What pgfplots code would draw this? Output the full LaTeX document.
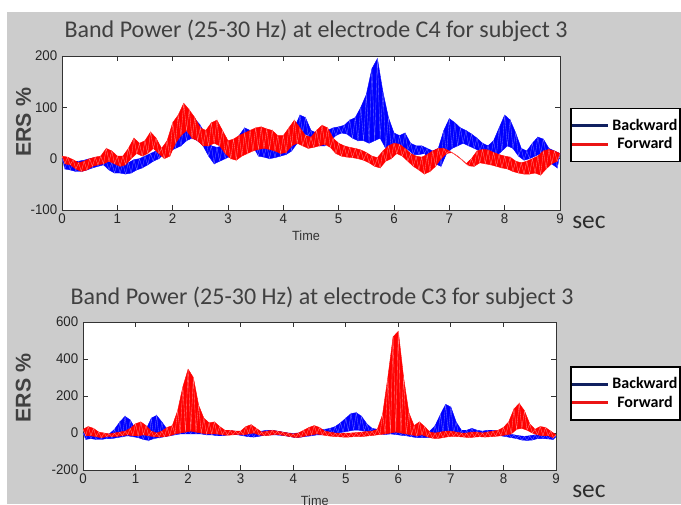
\documentclass[border=0pt]{standalone}
\usepackage{pgfplots}
\pgfplotsset{compat=1.18}
\usepackage{fontspec}
\setmainfont{Carlito}
\newfontfamily\tickfont[FakeStretch=0.95]{Liberation Sans}
\newfontfamily\ersfont{Liberation Sans}
\definecolor{bggray}{RGB}{204,204,204}
\definecolor{navyleg}{RGB}{16,32,96}
\definecolor{titlegray}{RGB}{64,64,64}
\definecolor{secgray}{RGB}{45,45,45}
\definecolor{pblue}{RGB}{0,0,255}
\definecolor{pred}{RGB}{255,0,0}
\definecolor{tblue}{RGB}{110,110,255}
\definecolor{tred}{RGB}{255,130,130}
\definecolor{legred}{RGB}{235,20,20}

\pgfplotsset{
  bandfill/.style={draw=#1, line width=0.3pt, fill=#1, forget plot},
  bandtex/.style={draw=#1, line width=0.25pt, forget plot},
  legline/.style={legend image code/.code={\draw[#1, line width=2.2pt] (0pt,0pt) -- (27pt,0pt);}},
  matstyle/.style={
    scale only axis, xmin=0, xmax=9, xtick={0,...,9},
    tick align=inside, major tick length=3.5pt,
    axis line style={black!80, line width=0.7pt},
    every tick/.style={black!80, line width=0.6pt},
    axis background/.style={fill=white},
    ticklabel style={font=\tickfont\fontsize{10.5}{10.5}\selectfont, text=black!85},
    xticklabel style={yshift=1pt},
    /pgf/number format/assume math mode=true,
    xlabel={Time},
    xlabel style={font=\tickfont\fontsize{10}{10}\selectfont, text=black!80, anchor=center},
    ylabel={ERS \%},
    ylabel style={font=\ersfont\bfseries\fontsize{16}{16}\selectfont, text=black!75, anchor=center},
    legend cell align=center,
    legend style={anchor=north west, draw=black, line width=1.3pt, fill=white,
      font=\bfseries\fontsize{12}{12}\selectfont, inner xsep=0pt, inner ysep=6pt,
      row sep=0pt},
  }
}

\begin{document}
\begin{tikzpicture}
\useasboundingbox (0,0) rectangle (510.75pt,378pt);
\clip (0,0) rectangle (510.75pt,378pt);
\fill[white] (0,0) rectangle (510.75pt,378pt);
\fill[bggray] (5.25pt,0) rectangle (510.75pt,369pt);

% ---------------- Top panel: C4 ----------------
\begin{axis}[matstyle,
  at={(46.5pt,220.5pt)}, anchor=south west, width=373.5pt, height=115.5pt,
  ymin=-100, ymax=200, ytick={-100,0,100,200},
  xlabel style={at={(axis description cs:0.49,-0.17)}},
  ylabel style={at={(axis description cs:-0.077,0.569)}},
  legend style={at={(1.020,0.665)}},
]
% Backward: upper envelope forward, lower envelope backward
\addplot[bandfill=pblue] coordinates {
(0,0)(0.1,-5)(0.2,-5)(0.3,-5)(0.4,-3)(0.5,0)(0.6,2)(0.7,3)(0.8,-5)(0.9,-8)(1,-8)(1.1,-10)(1.2,-8)(1.3,-2)(1.4,0)(1.5,5)(1.6,10)(1.7,15)(1.8,20)(1.9,30)(2,45)(2.1,55)(2.2,65)(2.3,75)(2.4,78)(2.5,65)(2.6,45)(2.7,25)(2.8,22)(2.9,25)(3,25)(3.1,30)(3.2,45)(3.3,60)(3.4,55)(3.5,35)(3.6,28)(3.7,25)(3.8,25)(3.9,28)(4,30)(4.1,40)(4.2,60)(4.3,85)(4.4,80)(4.5,55)(4.6,50)(4.7,50)(4.8,55)(4.9,60)(5,62)(5.1,65)(5.2,75)(5.3,80)(5.4,100)(5.5,125)(5.6,175)(5.7,195)(5.8,130)(5.9,80)(6,50)(6.1,45)(6.2,50)(6.3,30)(6.4,25)(6.5,25)(6.6,20)(6.7,15)(6.8,20)(6.9,55)(7,78)(7.1,70)(7.2,60)(7.3,55)(7.4,48)(7.5,40)(7.6,30)(7.7,25)(7.8,35)(7.9,60)(8,85)(8.1,75)(8.2,50)(8.3,20)(8.4,15)(8.5,30)(8.6,42)(8.7,38)(8.8,20)(8.9,15)(9,10)
(8.95,-18)(8.85,-10)(8.75,8)(8.65,10)(8.55,5)(8.45,0)(8.35,-3)(8.25,5)(8.15,20)(8.05,25)(7.95,15)(7.85,5)(7.75,5)(7.65,10)(7.55,15)(7.45,20)(7.35,25)(7.25,30)(7.15,25)(7.05,20)(6.95,10)(6.85,-15)(6.75,-10)(6.65,0)(6.55,10)(6.45,8)(6.35,8)(6.25,18)(6.15,20)(6.05,17)(5.95,20)(5.85,20)(5.75,40)(5.65,35)(5.55,30)(5.45,35)(5.35,35)(5.25,40)(5.15,48)(5.05,50)(4.95,45)(4.85,35)(4.75,25)(4.65,25)(4.55,30)(4.45,45)(4.35,50)(4.25,30)(4.15,15)(4.05,8)(3.95,5)(3.85,2)(3.75,0)(3.65,3)(3.55,5)(3.45,25)(3.35,25)(3.25,15)(3.15,10)(3.05,5)(2.95,0)(2.85,-5)(2.75,-10)(2.65,5)(2.55,25)(2.45,35)(2.35,40)(2.25,35)(2.15,25)(2.05,20)(1.95,15)(1.85,10)(1.75,0)(1.65,-5)(1.55,-12)(1.45,-18)(1.35,-22)(1.25,-28)(1.15,-30)(1.05,-28)(0.95,-28)(0.85,-22)(0.75,-12)(0.65,-15)(0.55,-18)(0.45,-22)(0.35,-25)(0.25,-25)(0.15,-22)(0.05,-20)
};
\addplot[bandtex=tblue] coordinates {
(0,0)(0.05,-20)(0.1,-5)(0.15,-22)(0.2,-5)(0.25,-25)(0.3,-5)(0.35,-25)(0.4,-3)(0.45,-22)(0.5,0)(0.55,-18)(0.6,2)(0.65,-15)(0.7,3)(0.75,-12)(0.8,-5)(0.85,-22)(0.9,-8)(0.95,-28)(1,-8)(1.05,-28)(1.1,-10)(1.15,-30)(1.2,-8)(1.25,-28)(1.3,-2)(1.35,-22)(1.4,0)(1.45,-18)(1.5,5)(1.55,-12)(1.6,10)(1.65,-5)(1.7,15)(1.75,0)(1.8,20)(1.85,10)(1.9,30)(1.95,15)(2,45)(2.05,20)(2.1,55)(2.15,25)(2.2,65)(2.25,35)(2.3,75)(2.35,40)(2.4,78)(2.45,35)(2.5,65)(2.55,25)(2.6,45)(2.65,5)(2.7,25)(2.75,-10)(2.8,22)(2.85,-5)(2.9,25)(2.95,0)(3,25)(3.05,5)(3.1,30)(3.15,10)(3.2,45)(3.25,15)(3.3,60)(3.35,25)(3.4,55)(3.45,25)(3.5,35)(3.55,5)(3.6,28)(3.65,3)(3.7,25)(3.75,0)(3.8,25)(3.85,2)(3.9,28)(3.95,5)(4,30)(4.05,8)(4.1,40)(4.15,15)(4.2,60)(4.25,30)(4.3,85)(4.35,50)(4.4,80)(4.45,45)(4.5,55)(4.55,30)(4.6,50)(4.65,25)(4.7,50)(4.75,25)(4.8,55)(4.85,35)(4.9,60)(4.95,45)(5,62)(5.05,50)(5.1,65)(5.15,48)(5.2,75)(5.25,40)(5.3,80)(5.35,35)(5.4,100)(5.45,35)(5.5,125)(5.55,30)(5.6,175)(5.65,35)(5.7,195)(5.75,40)(5.8,130)(5.85,20)(5.9,80)(5.95,20)(6,50)(6.05,17)(6.1,45)(6.15,20)(6.2,50)(6.25,18)(6.3,30)(6.35,8)(6.4,25)(6.45,8)(6.5,25)(6.55,10)(6.6,20)(6.65,0)(6.7,15)(6.75,-10)(6.8,20)(6.85,-15)(6.9,55)(6.95,10)(7,78)(7.05,20)(7.1,70)(7.15,25)(7.2,60)(7.25,30)(7.3,55)(7.35,25)(7.4,48)(7.45,20)(7.5,40)(7.55,15)(7.6,30)(7.65,10)(7.7,25)(7.75,5)(7.8,35)(7.85,5)(7.9,60)(7.95,15)(8,85)(8.05,25)(8.1,75)(8.15,20)(8.2,50)(8.25,5)(8.3,20)(8.35,-3)(8.4,15)(8.45,0)(8.5,30)(8.55,5)(8.6,42)(8.65,10)(8.7,38)(8.75,8)(8.8,20)(8.85,-10)(8.9,15)(8.95,-18)(9,10)
};
% Forward
\addplot[bandfill=pred] coordinates {
(0,5)(0.1,3)(0.2,-2)(0.3,-8)(0.4,-5)(0.5,0)(0.6,3)(0.7,5)(0.8,20)(0.9,15)(1,5)(1.1,5)(1.2,20)(1.3,40)(1.4,30)(1.5,35)(1.6,52)(1.7,40)(1.8,20)(1.9,35)(2,70)(2.1,85)(2.2,108)(2.3,95)(2.4,80)(2.5,60)(2.6,55)(2.7,70)(2.8,75)(2.9,55)(3,35)(3.1,38)(3.2,45)(3.3,50)(3.4,55)(3.5,60)(3.6,62)(3.7,58)(3.8,55)(3.9,45)(4,45)(4.1,60)(4.2,75)(4.3,60)(4.4,45)(4.5,42)(4.6,55)(4.7,65)(4.8,60)(4.9,40)(5,30)(5.1,25)(5.2,22)(5.3,20)(5.4,17)(5.5,12)(5.6,5)(5.7,2)(5.8,15)(5.9,25)(6,30)(6.1,28)(6.2,20)(6.3,10)(6.4,5)(6.5,3)(6.6,8)(6.7,15)(6.8,20)(6.9,20)(7,15)(7.1,8)(7.2,0)(7.3,-10)(7.4,0)(7.5,15)(7.6,18)(7.7,17)(7.8,12)(7.9,8)(8,5)(8.1,3)(8.2,-5)(8.3,-8)(8.4,-5)(8.5,0)(8.6,5)(8.7,15)(8.8,18)(8.9,15)(9,10)
(8.95,-5)(8.85,-10)(8.75,-20)(8.65,-32)(8.55,-28)(8.45,-30)(8.35,-30)(8.25,-28)(8.15,-25)(8.05,-20)(7.95,-18)(7.85,-15)(7.75,-12)(7.65,-10)(7.55,-8)(7.45,-15)(7.35,-14)(7.25,-4)(7.15,5)(7.05,12)(6.95,10)(6.85,0)(6.75,-15)(6.65,-25)(6.55,-30)(6.45,-22)(6.35,-15)(6.25,-5)(6.15,5)(6.05,10)(5.95,0)(5.85,-5)(5.75,-18)(5.65,-15)(5.55,-8)(5.45,-3)(5.35,0)(5.25,2)(5.15,3)(5.05,5)(4.95,10)(4.85,22)(4.75,28)(4.65,25)(4.55,22)(4.45,20)(4.35,25)(4.25,30)(4.15,25)(4.05,12)(3.95,10)(3.85,15)(3.75,18)(3.65,20)(3.55,18)(3.45,15)(3.35,10)(3.25,5)(3.15,-3)(3.05,0)(2.95,10)(2.85,25)(2.75,30)(2.65,25)(2.55,25)(2.45,35)(2.35,40)(2.25,55)(2.15,45)(2.05,30)(1.95,5)(1.85,0)(1.75,10)(1.65,20)(1.55,10)(1.45,5)(1.35,10)(1.25,0)(1.15,-12)(1.05,-15)(0.95,-10)(0.85,-5)(0.75,-10)(0.65,-12)(0.55,-15)(0.45,-22)(0.35,-25)(0.25,-20)(0.15,-12)(0.05,-10)
};
\addplot[bandtex=tred] coordinates {
(0,5)(0.05,-10)(0.1,3)(0.15,-12)(0.2,-2)(0.25,-20)(0.3,-8)(0.35,-25)(0.4,-5)(0.45,-22)(0.5,0)(0.55,-15)(0.6,3)(0.65,-12)(0.7,5)(0.75,-10)(0.8,20)(0.85,-5)(0.9,15)(0.95,-10)(1,5)(1.05,-15)(1.1,5)(1.15,-12)(1.2,20)(1.25,0)(1.3,40)(1.35,10)(1.4,30)(1.45,5)(1.5,35)(1.55,10)(1.6,52)(1.65,20)(1.7,40)(1.75,10)(1.8,20)(1.85,0)(1.9,35)(1.95,5)(2,70)(2.05,30)(2.1,85)(2.15,45)(2.2,108)(2.25,55)(2.3,95)(2.35,40)(2.4,80)(2.45,35)(2.5,60)(2.55,25)(2.6,55)(2.65,25)(2.7,70)(2.75,30)(2.8,75)(2.85,25)(2.9,55)(2.95,10)(3,35)(3.05,0)(3.1,38)(3.15,-3)(3.2,45)(3.25,5)(3.3,50)(3.35,10)(3.4,55)(3.45,15)(3.5,60)(3.55,18)(3.6,62)(3.65,20)(3.7,58)(3.75,18)(3.8,55)(3.85,15)(3.9,45)(3.95,10)(4,45)(4.05,12)(4.1,60)(4.15,25)(4.2,75)(4.25,30)(4.3,60)(4.35,25)(4.4,45)(4.45,20)(4.5,42)(4.55,22)(4.6,55)(4.65,25)(4.7,65)(4.75,28)(4.8,60)(4.85,22)(4.9,40)(4.95,10)(5,30)(5.05,5)(5.1,25)(5.15,3)(5.2,22)(5.25,2)(5.3,20)(5.35,0)(5.4,17)(5.45,-3)(5.5,12)(5.55,-8)(5.6,5)(5.65,-15)(5.7,2)(5.75,-18)(5.8,15)(5.85,-5)(5.9,25)(5.95,0)(6,30)(6.05,10)(6.1,28)(6.15,5)(6.2,20)(6.25,-5)(6.3,10)(6.35,-15)(6.4,5)(6.45,-22)(6.5,3)(6.55,-30)(6.6,8)(6.65,-25)(6.7,15)(6.75,-15)(6.8,20)(6.85,0)(6.9,20)(6.95,10)(7,15)(7.05,12)(7.1,8)(7.15,5)(7.2,0)(7.25,-4)(7.3,-10)(7.35,-14)(7.4,0)(7.45,-15)(7.5,15)(7.55,-8)(7.6,18)(7.65,-10)(7.7,17)(7.75,-12)(7.8,12)(7.85,-15)(7.9,8)(7.95,-18)(8,5)(8.05,-20)(8.1,3)(8.15,-25)(8.2,-5)(8.25,-28)(8.3,-8)(8.35,-30)(8.4,-5)(8.45,-30)(8.5,0)(8.55,-28)(8.6,5)(8.65,-32)(8.7,15)(8.75,-20)(8.8,18)(8.85,-10)(8.9,15)(8.95,-5)(9,10)
};
\addlegendimage{legline=navyleg}
\addlegendentry{Backward}
\addlegendimage{legline=legred}
\addlegendentry{Forward}
\end{axis}

% ---------------- Bottom panel: C3 ----------------
\begin{axis}[matstyle,
  at={(62.25pt,25.5pt)}, anchor=south west, width=354.75pt, height=111pt,
  ymin=-200, ymax=600, ytick={-200,0,200,400,600},
  xlabel style={at={(axis description cs:0.49,-0.205)}},
  ylabel style={at={(axis description cs:-0.126,0.554)}},
  legend style={at={(1.0296,0.703)}},
]
\addplot[bandfill=pblue] coordinates {
(0,0)(0.1,0)(0.2,-5)(0.3,-5)(0.4,-8)(0.5,-5)(0.6,20)(0.7,60)(0.8,90)(0.9,70)(1,20)(1.1,0)(1.2,20)(1.3,80)(1.4,95)(1.5,60)(1.6,20)(1.7,10)(1.8,10)(1.9,15)(2,20)(2.1,20)(2.2,15)(2.3,10)(2.4,10)(2.5,5)(2.6,8)(2.7,10)(2.8,12)(2.9,10)(3,5)(3.1,0)(3.2,0)(3.3,5)(3.4,10)(3.5,15)(3.6,15)(3.7,10)(3.8,5)(3.9,0)(4,-2)(4.1,0)(4.2,5)(4.3,10)(4.4,15)(4.5,15)(4.6,20)(4.7,25)(4.8,35)(4.9,55)(5,80)(5.1,105)(5.2,110)(5.3,90)(5.4,50)(5.5,25)(5.6,20)(5.7,15)(5.8,15)(5.9,15)(6,10)(6.1,5)(6.2,0)(6.3,0)(6.4,-2)(6.5,0)(6.6,10)(6.7,40)(6.8,100)(6.9,155)(7,140)(7.1,60)(7.2,15)(7.3,15)(7.4,25)(7.5,15)(7.6,10)(7.7,15)(7.8,15)(7.9,10)(8,0)(8.1,-5)(8.2,-10)(8.3,-15)(8.4,-18)(8.5,-15)(8.6,-10)(8.7,-8)(8.8,-10)(8.9,-15)(9,-20)
(8.95,-35)(8.85,-32)(8.75,-30)(8.65,-30)(8.55,-38)(8.45,-40)(8.35,-38)(8.25,-30)(8.15,-25)(8.05,-20)(7.95,-15)(7.85,-10)(7.75,-12)(7.65,-15)(7.55,-12)(7.45,-10)(7.35,-12)(7.25,-15)(7.15,-10)(7.05,0)(6.95,5)(6.85,0)(6.75,-10)(6.65,-20)(6.55,-25)(6.45,-25)(6.35,-25)(6.25,-20)(6.15,-15)(6.05,-12)(5.95,-8)(5.85,-5)(5.75,-8)(5.65,-5)(5.55,0)(5.45,5)(5.35,10)(5.25,15)(5.15,15)(5.05,10)(4.95,5)(4.85,0)(4.75,-5)(4.65,-8)(4.55,-10)(4.45,-10)(4.35,-15)(4.25,-18)(4.15,-22)(4.05,-25)(3.95,-20)(3.85,-15)(3.75,-12)(3.65,-10)(3.55,-10)(3.45,-12)(3.35,-18)(3.25,-22)(3.15,-20)(3.05,-15)(2.95,-10)(2.85,-8)(2.75,-10)(2.65,-15)(2.55,-15)(2.45,-10)(2.35,-10)(2.25,-5)(2.15,-5)(2.05,-5)(1.95,-5)(1.85,-5)(1.75,-10)(1.65,-15)(1.55,-20)(1.45,-25)(1.35,-30)(1.25,-40)(1.15,-35)(1.05,-25)(0.95,-20)(0.85,-15)(0.75,-20)(0.65,-25)(0.55,-30)(0.45,-30)(0.35,-35)(0.25,-35)(0.15,-30)(0.05,-35)
};
\addplot[bandtex=tblue] coordinates {
(0,0)(0.05,-35)(0.1,0)(0.15,-30)(0.2,-5)(0.25,-35)(0.3,-5)(0.35,-35)(0.4,-8)(0.45,-30)(0.5,-5)(0.55,-30)(0.6,20)(0.65,-25)(0.7,60)(0.75,-20)(0.8,90)(0.85,-15)(0.9,70)(0.95,-20)(1,20)(1.05,-25)(1.1,0)(1.15,-35)(1.2,20)(1.25,-40)(1.3,80)(1.35,-30)(1.4,95)(1.45,-25)(1.5,60)(1.55,-20)(1.6,20)(1.65,-15)(1.7,10)(1.75,-10)(1.8,10)(1.85,-5)(1.9,15)(1.95,-5)(2,20)(2.05,-5)(2.1,20)(2.15,-5)(2.2,15)(2.25,-5)(2.3,10)(2.35,-10)(2.4,10)(2.45,-10)(2.5,5)(2.55,-15)(2.6,8)(2.65,-15)(2.7,10)(2.75,-10)(2.8,12)(2.85,-8)(2.9,10)(2.95,-10)(3,5)(3.05,-15)(3.1,0)(3.15,-20)(3.2,0)(3.25,-22)(3.3,5)(3.35,-18)(3.4,10)(3.45,-12)(3.5,15)(3.55,-10)(3.6,15)(3.65,-10)(3.7,10)(3.75,-12)(3.8,5)(3.85,-15)(3.9,0)(3.95,-20)(4,-2)(4.05,-25)(4.1,0)(4.15,-22)(4.2,5)(4.25,-18)(4.3,10)(4.35,-15)(4.4,15)(4.45,-10)(4.5,15)(4.55,-10)(4.6,20)(4.65,-8)(4.7,25)(4.75,-5)(4.8,35)(4.85,0)(4.9,55)(4.95,5)(5,80)(5.05,10)(5.1,105)(5.15,15)(5.2,110)(5.25,15)(5.3,90)(5.35,10)(5.4,50)(5.45,5)(5.5,25)(5.55,0)(5.6,20)(5.65,-5)(5.7,15)(5.75,-8)(5.8,15)(5.85,-5)(5.9,15)(5.95,-8)(6,10)(6.05,-12)(6.1,5)(6.15,-15)(6.2,0)(6.25,-20)(6.3,0)(6.35,-25)(6.4,-2)(6.45,-25)(6.5,0)(6.55,-25)(6.6,10)(6.65,-20)(6.7,40)(6.75,-10)(6.8,100)(6.85,0)(6.9,155)(6.95,5)(7,140)(7.05,0)(7.1,60)(7.15,-10)(7.2,15)(7.25,-15)(7.3,15)(7.35,-12)(7.4,25)(7.45,-10)(7.5,15)(7.55,-12)(7.6,10)(7.65,-15)(7.7,15)(7.75,-12)(7.8,15)(7.85,-10)(7.9,10)(7.95,-15)(8,0)(8.05,-20)(8.1,-5)(8.15,-25)(8.2,-10)(8.25,-30)(8.3,-15)(8.35,-38)(8.4,-18)(8.45,-40)(8.5,-15)(8.55,-38)(8.6,-10)(8.65,-30)(8.7,-8)(8.75,-30)(8.8,-10)(8.85,-32)(8.9,-15)(8.95,-35)(9,-20)
};
\addplot[bandfill=pred] coordinates {
(0,20)(0.1,35)(0.2,25)(0.3,5)(0.4,0)(0.5,-5)(0.6,0)(0.7,5)(0.8,10)(0.9,25)(1,50)(1.1,60)(1.2,40)(1.3,10)(1.4,0)(1.5,10)(1.6,30)(1.7,40)(1.8,120)(1.9,250)(2,345)(2.1,300)(2.2,150)(2.3,80)(2.4,55)(2.5,60)(2.6,35)(2.7,15)(2.8,15)(2.9,10)(3,10)(3.1,35)(3.2,45)(3.3,25)(3.4,5)(3.5,10)(3.6,15)(3.7,10)(3.8,5)(3.9,0)(4,-5)(4.1,0)(4.2,15)(4.3,30)(4.4,40)(4.5,30)(4.6,10)(4.7,5)(4.8,0)(4.9,-2)(5,0)(5.1,0)(5.2,2)(5.3,5)(5.4,8)(5.5,10)(5.6,20)(5.7,100)(5.8,300)(5.9,520)(6,550)(6.1,300)(6.2,110)(6.3,40)(6.4,60)(6.5,35)(6.6,5)(6.7,0)(6.8,5)(6.9,10)(7,10)(7.1,5)(7.2,0)(7.3,0)(7.4,5)(7.5,5)(7.6,0)(7.7,5)(7.8,10)(7.9,15)(8,30)(8.1,60)(8.2,130)(8.3,160)(8.4,120)(8.5,50)(8.6,20)(8.7,35)(8.8,30)(8.9,10)(9,-10)
(8.95,-25)(8.85,-15)(8.75,-15)(8.65,-10)(8.55,0)(8.45,15)(8.35,25)(8.25,20)(8.15,-5)(8.05,-10)(7.95,-15)(7.85,-18)(7.75,-20)(7.65,-22)(7.55,-20)(7.45,-22)(7.35,-25)(7.25,-22)(7.15,-20)(7.05,-18)(6.95,-20)(6.85,-25)(6.75,-30)(6.65,-28)(6.55,-20)(6.45,-10)(6.35,-15)(6.25,-10)(6.15,-5)(6.05,0)(5.95,5)(5.85,0)(5.75,-5)(5.65,-8)(5.55,-12)(5.45,-15)(5.35,-18)(5.25,-20)(5.15,-20)(5.05,-22)(4.95,-22)(4.85,-20)(4.75,-18)(4.65,-15)(4.55,-10)(4.45,-5)(4.35,-10)(4.25,-15)(4.15,-22)(4.05,-25)(3.95,-20)(3.85,-15)(3.75,-10)(3.65,-8)(3.55,-12)(3.45,-15)(3.35,-10)(3.25,0)(3.15,-5)(3.05,-10)(2.95,-8)(2.85,-10)(2.75,-12)(2.65,-10)(2.55,-5)(2.45,-5)(2.35,-5)(2.25,0)(2.15,5)(2.05,10)(1.95,5)(1.85,0)(1.75,-5)(1.65,-15)(1.55,-20)(1.45,-22)(1.35,-20)(1.25,-15)(1.15,-10)(1.05,-15)(0.95,-15)(0.85,-10)(0.75,-15)(0.65,-18)(0.55,-20)(0.45,-20)(0.35,-25)(0.25,-20)(0.15,-15)(0.05,-15)
};
\addplot[bandtex=tred] coordinates {
(0,20)(0.05,-15)(0.1,35)(0.15,-15)(0.2,25)(0.25,-20)(0.3,5)(0.35,-25)(0.4,0)(0.45,-20)(0.5,-5)(0.55,-20)(0.6,0)(0.65,-18)(0.7,5)(0.75,-15)(0.8,10)(0.85,-10)(0.9,25)(0.95,-15)(1,50)(1.05,-15)(1.1,60)(1.15,-10)(1.2,40)(1.25,-15)(1.3,10)(1.35,-20)(1.4,0)(1.45,-22)(1.5,10)(1.55,-20)(1.6,30)(1.65,-15)(1.7,40)(1.75,-5)(1.8,120)(1.85,0)(1.9,250)(1.95,5)(2,345)(2.05,10)(2.1,300)(2.15,5)(2.2,150)(2.25,0)(2.3,80)(2.35,-5)(2.4,55)(2.45,-5)(2.5,60)(2.55,-5)(2.6,35)(2.65,-10)(2.7,15)(2.75,-12)(2.8,15)(2.85,-10)(2.9,10)(2.95,-8)(3,10)(3.05,-10)(3.1,35)(3.15,-5)(3.2,45)(3.25,0)(3.3,25)(3.35,-10)(3.4,5)(3.45,-15)(3.5,10)(3.55,-12)(3.6,15)(3.65,-8)(3.7,10)(3.75,-10)(3.8,5)(3.85,-15)(3.9,0)(3.95,-20)(4,-5)(4.05,-25)(4.1,0)(4.15,-22)(4.2,15)(4.25,-15)(4.3,30)(4.35,-10)(4.4,40)(4.45,-5)(4.5,30)(4.55,-10)(4.6,10)(4.65,-15)(4.7,5)(4.75,-18)(4.8,0)(4.85,-20)(4.9,-2)(4.95,-22)(5,0)(5.05,-22)(5.1,0)(5.15,-20)(5.2,2)(5.25,-20)(5.3,5)(5.35,-18)(5.4,8)(5.45,-15)(5.5,10)(5.55,-12)(5.6,20)(5.65,-8)(5.7,100)(5.75,-5)(5.8,300)(5.85,0)(5.9,520)(5.95,5)(6,550)(6.05,0)(6.1,300)(6.15,-5)(6.2,110)(6.25,-10)(6.3,40)(6.35,-15)(6.4,60)(6.45,-10)(6.5,35)(6.55,-20)(6.6,5)(6.65,-28)(6.7,0)(6.75,-30)(6.8,5)(6.85,-25)(6.9,10)(6.95,-20)(7,10)(7.05,-18)(7.1,5)(7.15,-20)(7.2,0)(7.25,-22)(7.3,0)(7.35,-25)(7.4,5)(7.45,-22)(7.5,5)(7.55,-20)(7.6,0)(7.65,-22)(7.7,5)(7.75,-20)(7.8,10)(7.85,-18)(7.9,15)(7.95,-15)(8,30)(8.05,-10)(8.1,60)(8.15,-5)(8.2,130)(8.25,20)(8.3,160)(8.35,25)(8.4,120)(8.45,15)(8.5,50)(8.55,0)(8.6,20)(8.65,-10)(8.7,35)(8.75,-15)(8.8,30)(8.85,-15)(8.9,10)(8.95,-25)(9,-10)
};
\addlegendimage{legline=navyleg}
\addlegendentry{Backward}
\addlegendimage{legline=legred}
\addlegendentry{Forward}
\end{axis}

% titles and unit labels
\node[font=\fontsize{18}{18}\selectfont, text=titlegray, anchor=base] at (237pt,349.5pt) {Band Power (25-30 Hz) at electrode C4 for subject 3};
\node[font=\fontsize{18}{18}\selectfont, text=titlegray, anchor=base] at (241.5pt,150pt) {Band Power (25-30 Hz) at electrode C3 for subject 3};
\node[font=\fontsize{19}{19}\selectfont, text=secgray, anchor=base west, inner sep=0pt] at (429pt,207pt) {sec};
\node[font=\fontsize{19}{19}\selectfont, text=secgray, anchor=base west, inner sep=0pt] at (429pt,5.25pt) {sec};
\end{tikzpicture}
\end{document}
